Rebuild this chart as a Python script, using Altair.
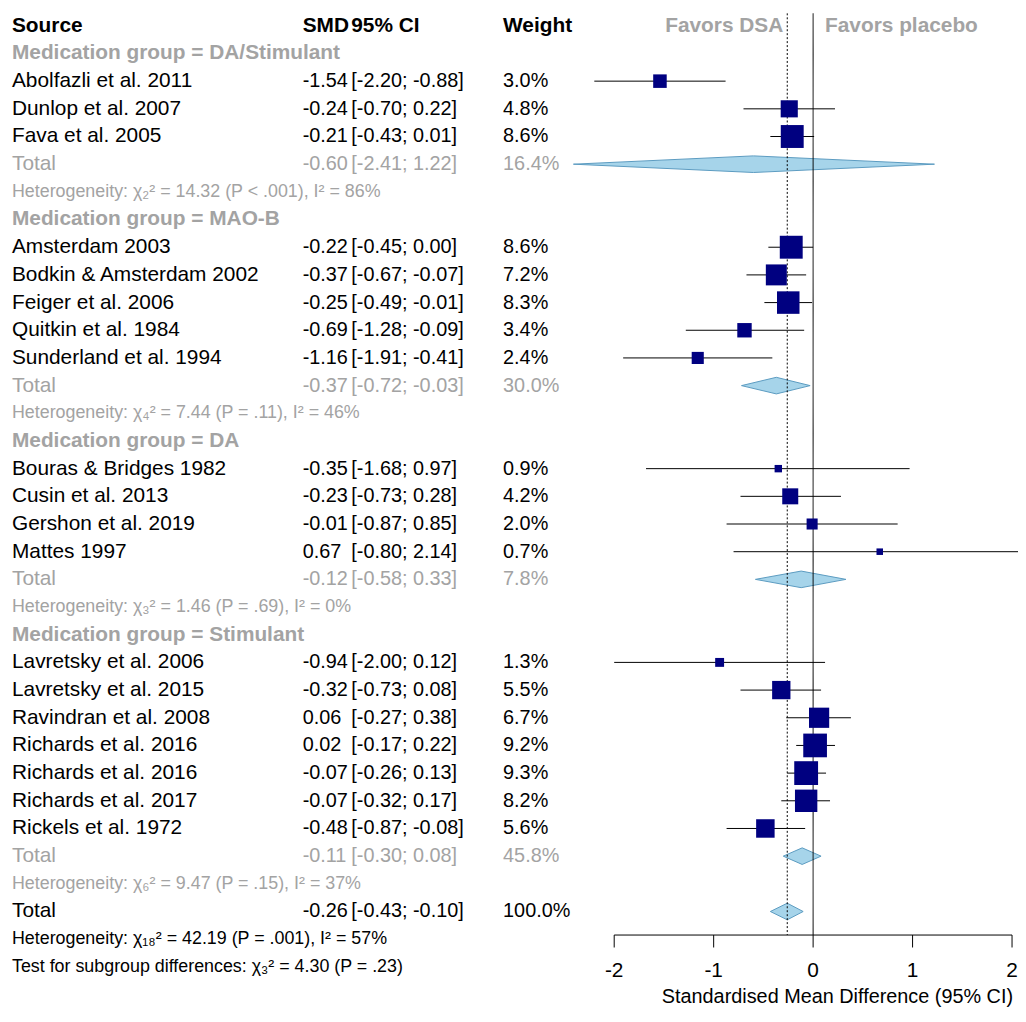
import altair as alt
import pandas as pd

# study rows
names = ["Abolfazli et al. 2011", "Dunlop et al. 2007", "Fava et al. 2005",
         "Amsterdam 2003", "Bodkin & Amsterdam 2002", "Feiger et al. 2006", "Quitkin et al. 1984", "Sunderland et al. 1994",
         "Bouras & Bridges 1982", "Cusin et al. 2013", "Gershon et al. 2019", "Mattes 1997",
         "Lavretsky et al. 2006", "Lavretsky et al. 2015", "Ravindran et al. 2008", "Richards et al. 2016",
         "Richards et al. 2016", "Richards et al. 2017", "Rickels et al. 1972"]
smd = [-1.54, -0.24, -0.21, -0.22, -0.37, -0.25, -0.69, -1.16, -0.35, -0.23, -0.01, 0.67,
       -0.94, -0.32, 0.06, 0.02, -0.07, -0.07, -0.48]
lo = [-2.20, -0.70, -0.43, -0.45, -0.67, -0.49, -1.28, -1.91, -1.68, -0.73, -0.87, -0.80,
      -2.00, -0.73, -0.27, -0.17, -0.26, -0.32, -0.87]
hi = [-0.88, 0.22, 0.01, 0.00, -0.07, -0.01, -0.09, -0.41, 0.97, 0.28, 0.85, 2.14,
      0.12, 0.08, 0.38, 0.22, 0.13, 0.17, -0.08]
weight = [3.0, 4.8, 8.6, 8.6, 7.2, 8.3, 3.4, 2.4, 0.9, 4.2, 2.0, 0.7, 1.3, 5.5, 6.7, 9.2, 9.3, 8.2, 5.6]
study_rows = [2, 3, 4, 8, 9, 10, 11, 12, 16, 17, 18, 19, 23, 24, 25, 26, 27, 28, 29]

# subgroup / overall totals
group_names = ["Medication group = DA/Stimulant", "Medication group = MAO-B",
               "Medication group = DA", "Medication group = Stimulant"]
group_rows = [1, 7, 15, 22]
tot_smd = [-0.60, -0.37, -0.12, -0.11, -0.26]
tot_lo = [-2.41, -0.72, -0.58, -0.30, -0.43]
tot_hi = [1.22, -0.03, 0.33, 0.08, -0.10]
tot_w = [16.4, 30.0, 7.8, 45.8, 100.0]
tot_rows = [5, 13, 20, 30, 32]
het_text = ["Heterogeneity: χ₂² = 14.32 (P < .001), I² = 86%",
            "Heterogeneity: χ₄² = 7.44 (P = .11), I² = 46%",
            "Heterogeneity: χ₃² = 1.46 (P = .69), I² = 0%",
            "Heterogeneity: χ₆² = 9.47 (P = .15), I² = 37%",
            "Heterogeneity: χ₁₈² = 42.19 (P = .001), I² = 57%",
            "Test for subgroup differences: χ₃² = 4.30 (P = .23)"]
het_rows = [6, 14, 21, 31, 33, 34]
ticks = [-2, -1, 0, 1, 2]
pooled = -0.26

FONT = "Liberation Sans"
FS = 21
FN = 20
GRAY = "#a3a3a3"
xs = alt.Scale(domain=[-8.095, 2.06], nice=False, zero=False)
ys = alt.Scale(domain=[-0.5, 35.56], reverse=True, nice=False, zero=False)
AXIS_ROW = 32.85

def fmt(v):
    return f"{v:.2f}"

studies = pd.DataFrame({"name": names, "smd": smd, "lo": lo, "hi": hi, "w": weight, "row": study_rows,
                        "s": [fmt(v) for v in smd],
                        "ci": [f"[{fmt(a)}; {fmt(b)}]" for a, b in zip(lo, hi)],
                        "wt": [f"{v:.1f}%" for v in weight]})
tots = pd.DataFrame({"name": ["Total"] * 5, "row": tot_rows, "s": [fmt(v) for v in tot_smd],
                     "ci": [f"[{fmt(a)}; {fmt(b)}]" for a, b in zip(tot_lo, tot_hi)],
                     "wt": [f"{v:.1f}%" for v in tot_w],
                     "c": ["g", "g", "g", "g", "k"]})
groups = pd.DataFrame({"name": group_names, "row": group_rows})
hets = pd.DataFrame({"name": het_text, "row": het_rows, "c": ["g", "g", "g", "g", "k", "k"]})

dia = []
for i, (e, a, b, r) in enumerate(zip(tot_smd, tot_lo, tot_hi, tot_rows)):
    dia += [{"id": i, "x": a, "y": r, "y2": r},
            {"id": i, "x": e, "y": r - 0.3, "y2": r + 0.3},
            {"id": i, "x": b, "y": r, "y2": r}]
dia = pd.DataFrame(dia)

base = alt.Chart(studies)
ci = base.mark_rule(color="black", strokeWidth=1, clip=True).encode(
    x=alt.X("lo:Q", scale=xs, axis=None), x2="hi:Q", y=alt.Y("row:Q", scale=ys, axis=None))
sq = base.mark_square(color="#000080", opacity=1, clip=True).encode(
    x="smd:Q", y="row:Q",
    size=alt.Size("w:Q", scale=alt.Scale(domain=[0, 10], range=[0, 620]), legend=None))

diamonds = alt.Chart(dia).mark_area(color="#a6d4ea", stroke="#5b9bc0", strokeWidth=1, orient="vertical",
                                    clip=True).encode(
    x="x:Q", y="y:Q", y2="y2:Q", detail="id:N")

vdf = pd.DataFrame({"x": [0, pooled], "d": ["s", "d"], "top": [-0.45, -0.45], "bot": [AXIS_ROW, AXIS_ROW]})
vlines = alt.Chart(vdf).mark_rule(color="black").encode(
    x="x:Q", y="top:Q", y2="bot:Q",
    strokeDash=alt.StrokeDash("d:N", scale=alt.Scale(domain=["s", "d"], range=[[1, 0], [2, 2]]), legend=None))

axis_df = pd.DataFrame({"t": ticks, "lab": [str(t) for t in ticks]})
axis_line = alt.Chart(pd.DataFrame({"a": [-2], "b": [2]})).mark_rule(color="black").encode(
    x="a:Q", x2="b:Q", y=alt.datum(AXIS_ROW))
tick_marks = alt.Chart(axis_df).mark_rule(color="black").encode(
    x="t:Q", y=alt.datum(AXIS_ROW), y2=alt.datum(AXIS_ROW + 0.45))
tick_labs = alt.Chart(axis_df).mark_text(font=FONT, fontSize=FS, baseline="middle").encode(
    x="t:Q", y=alt.datum(AXIS_ROW + 1.3), text="lab:N")
xtitle = alt.Chart(pd.DataFrame({"t": ["Standardised Mean Difference (95% CI)"]})).mark_text(
    font=FONT, fontSize=20, baseline="middle", align="right").encode(
    x=alt.datum(2.01), y=alt.datum(AXIS_ROW + 2.25), text="t:N")

def col(df, field, px, fs=FN, **kw):
    return alt.Chart(df).mark_text(font=FONT, fontSize=fs, align="left", baseline="middle", **kw).encode(
        x=alt.value(px), y="row:Q", text=f"{field}:N")

COLS = [("name", 4, FS), ("s", 297, FN), ("ci", 346, FN), ("wt", 499, FN)]
study_txt = [col(studies, f, p, fs, color="black") for f, p, fs in COLS]
color_gk = alt.Color("c:N", scale=alt.Scale(domain=["g", "k"], range=[GRAY, "black"]), legend=None)
tot_txt = [col(tots, f, p, fs).encode(color=color_gk) for f, p, fs in COLS]
grp_txt = col(groups, "name", 4, FS, color=GRAY, fontWeight="bold")
het_txt = alt.Chart(hets).mark_text(font=FONT, fontSize=18, align="left", baseline="middle").encode(
    x=alt.value(4), y="row:Q", text="name:N", color=color_gk)

hdr = pd.DataFrame({"t": ["Source", "SMD", "95% CI", "Weight"], "px": [4, 297, 346, 499]})
hdr_txt = alt.Chart(hdr).mark_text(font=FONT, fontSize=FS, fontWeight="bold", align="left",
                                   baseline="middle").encode(x=alt.X("px:Q", scale=None), y=alt.datum(0), text="t:N")
fav = alt.Chart(pd.DataFrame({"t": ["Favors DSA", "Favors placebo"], "x": [-0.3, 0.12],
                              "a": ["r", "l"]}))
fav_l = fav.transform_filter("datum.a == 'r'").mark_text(font=FONT, fontSize=FS, fontWeight="bold", color=GRAY,
                                                         align="right", baseline="middle").encode(
    x="x:Q", y=alt.datum(0), text="t:N")
fav_r = fav.transform_filter("datum.a == 'l'").mark_text(font=FONT, fontSize=FS, fontWeight="bold", color=GRAY,
                                                         align="left", baseline="middle").encode(
    x="x:Q", y=alt.datum(0), text="t:N")

chart = alt.layer(ci, diamonds, vlines, sq, axis_line, tick_marks, tick_labs, xtitle,
                  *study_txt, *tot_txt, grp_txt, het_txt, hdr_txt, fav_l, fav_r).properties(
    width=1018, height=1006, padding=0, autosize=alt.AutoSizeParams(type="none"),
    background="white").configure_view(stroke=None)

chart.save("out.html", embed_options={"renderer": "svg", "actions": False})
